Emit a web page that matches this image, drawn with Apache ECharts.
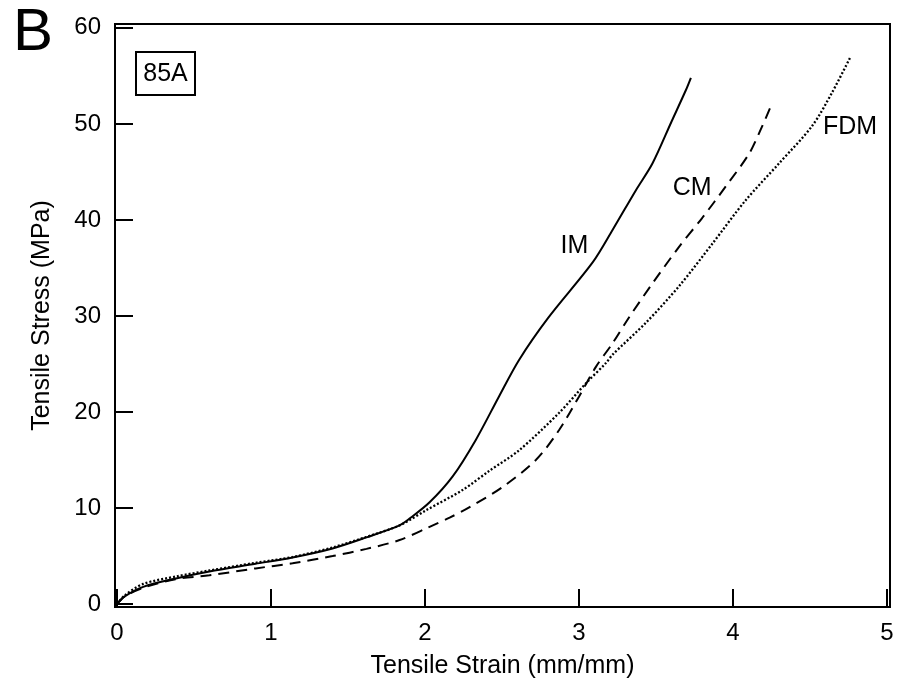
<!DOCTYPE html>
<html>
<head>
<meta charset="utf-8">
<script src="https://cdn.jsdelivr.net/npm/echarts@6/dist/echarts.min.js"></script>
<style>
html,body{margin:0;padding:0;background:#fff;}
#chart{width:898px;height:687px;}
</style>
</head>
<body>
<div id="chart"></div>
<script>
const xTicks = [0, 1, 2, 3, 4, 5];
const yTicks = [0, 10, 20, 30, 40, 50, 60];

const imX = [0, 0.05, 0.17, 0.39, 0.6, 0.9, 1.14, 1.4, 1.62, 1.835, 1.9, 2.03, 2.18, 2.33, 2.48, 2.61, 2.8, 3.09, 3.22, 3.37, 3.478, 3.6, 3.694, 3.727];
const imY = [0, 0.8, 1.8, 2.7, 3.4, 4.2, 4.86, 5.8, 6.95, 8.2, 8.9, 10.6, 13.3, 17.1, 21.6, 25.4, 29.8, 35.6, 39.0, 43.1, 45.9, 50.2, 53.5, 54.8];

const cmX = [0, 0.05, 0.17, 0.38, 0.6, 0.9, 1.14, 1.4, 1.62, 1.835, 2.03, 2.16, 2.29, 2.505, 2.72, 2.87, 3.0, 3.11, 3.22, 3.327, 3.478, 3.65, 3.8, 3.954, 4.105, 4.18, 4.256];
const cmY = [0, 0.8, 1.7, 2.6, 3.0, 3.72, 4.25, 5.0, 5.75, 6.67, 8.05, 9.0, 10.1, 12.2, 15.0, 18.1, 21.6, 24.7, 27.2, 29.9, 33.4, 37.2, 40.2, 43.5, 46.9, 49.4, 52.2];

const fdmX = [0, 0.05, 0.17, 0.39, 0.6, 0.9, 1.14, 1.4, 1.62, 1.835, 2.01, 2.246, 2.42, 2.61, 2.87, 3.046, 3.175, 3.22, 3.435, 3.65, 3.87, 4.08, 4.3, 4.515, 4.645, 4.764];
const fdmY = [0, 0.9, 2.1, 2.9, 3.5, 4.3, 4.9, 5.9, 7.0, 8.2, 9.8, 11.9, 13.9, 16.0, 19.9, 23.0, 25.1, 26.0, 29.3, 33.1, 37.6, 42.0, 45.9, 49.8, 53.3, 57.0];

const seriesNames = ['IM', 'CM', 'FDM'];
const labelPos = { IM: [2.97, 37.3], CM: [3.735, 43.3], FDM: [4.76, 49.7] };
const panelLetter = 'B';
const panelTag = '85A';

function pairs(xs, ys) { return xs.map((x, i) => [x, ys[i]]); }

const FONT = 'Liberation Sans, Arial, sans-serif';
const chart = echarts.init(document.getElementById('chart'), null, { renderer: 'canvas' });

function mkSeries(name, xs, ys, type, width) {
  return {
    name: name,
    type: 'line',
    data: pairs(xs, ys),
    showSymbol: false,
    symbol: 'none',
    smooth: 0.3,
    lineStyle: { color: '#000', width: width, type: type },
    markPoint: {
      symbol: 'circle', symbolSize: 0,
      data: [{ coord: labelPos[name], value: name }],
      label: { show: true, formatter: name, color: '#000', fontSize: 25, fontFamily: FONT, position: 'inside' }
    },
    silent: true,
    animation: false
  };
}

chart.setOption({
  animation: false,
  backgroundColor: '#fff',
  title: {
    text: panelLetter, left: 8, top: -2,
    textStyle: { fontSize: 60, fontWeight: 'normal', fontFamily: FONT, color: '#000' }
  },
  graphic: [{
    type: 'group', left: 135, top: 51,
    children: [
      { type: 'rect', shape: { x: 0, y: 0, width: 59, height: 43 }, style: { fill: '#fff', stroke: '#000', lineWidth: 2 } },
      { type: 'text', x: 29.5, y: 22, style: { text: panelTag, fontSize: 25, fontFamily: FONT, fill: '#000', align: 'center', verticalAlign: 'middle' } }
    ]
  }],
  grid: { left: 115, right: 8, top: 24, bottom: 80, show: true, borderColor: '#000', borderWidth: 2, containLabel: false },
  xAxis: {
    type: 'value', min: -0.013, max: 5.02,
    name: 'Tensile Strain (mm/mm)', nameLocation: 'middle', nameGap: 47,
    nameTextStyle: { fontSize: 25, fontFamily: FONT, color: '#000' },
    axisLine: { show: true, onZero: false, lineStyle: { color: '#000', width: 2 } },
    axisTick: { show: true, inside: true, length: 18, customValues: xTicks, lineStyle: { color: '#000', width: 2 } },
    axisLabel: { customValues: xTicks, margin: 14, fontSize: 24, fontFamily: FONT, color: '#000' },
    splitLine: { show: false }
  },
  yAxis: {
    type: 'value', min: -0.3, max: 60.4,
    name: 'Tensile Stress (MPa)', nameLocation: 'middle', nameGap: 60,
    nameTextStyle: { fontSize: 25, fontFamily: FONT, color: '#000' },
    axisLine: { show: true, onZero: false, lineStyle: { color: '#000', width: 2 } },
    axisTick: { show: true, inside: true, length: 18, customValues: yTicks, lineStyle: { color: '#000', width: 2 } },
    axisLabel: { customValues: yTicks, margin: 14, fontSize: 24, fontFamily: FONT, color: '#000' },
    splitLine: { show: false }
  },
  series: [
    mkSeries('IM', imX, imY, 'solid', 2),
    mkSeries('CM', cmX, cmY, [11, 7], 2),
    mkSeries('FDM', fdmX, fdmY, [2, 2], 2.3)
  ]
});
</script>
</body>
</html>
